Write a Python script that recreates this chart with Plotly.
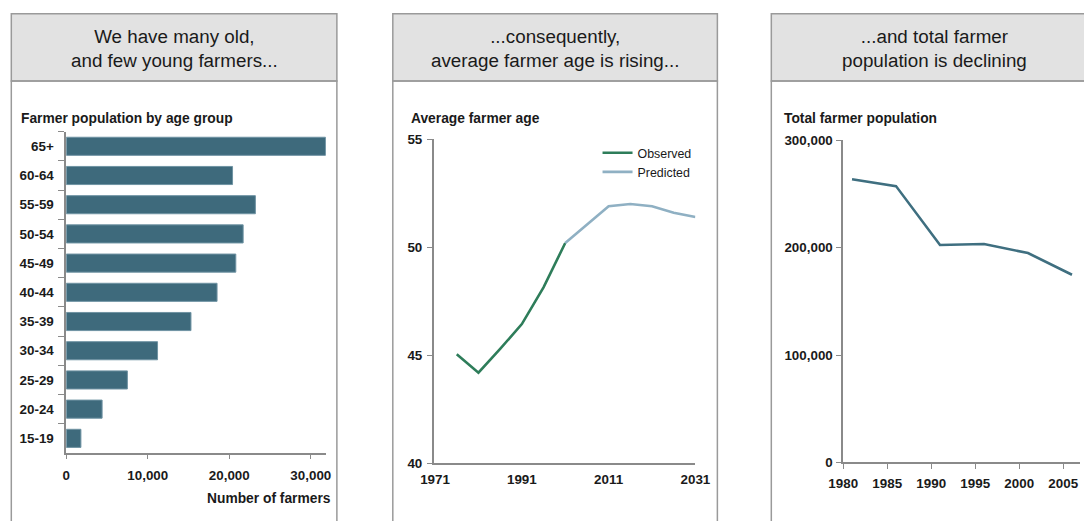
import plotly.graph_objects as go

# The photographed page shows the figure slightly scaled and offset; all
# positions below are given in target-picture pixels and converted.
A_X, B_X = 0.974, 13.7
A_Y, B_Y = 0.968, 7.3
W, H = 1100, 532

# ---------------- data ----------------
age_groups = ["65+", "60-64", "55-59", "50-54", "45-49", "40-44",
              "35-39", "30-34", "25-29", "20-24", "15-19"]
farmers_by_age = [31800, 20400, 23200, 21700, 20800, 18500,
                  15300, 11200, 7500, 4400, 1800]

obs_years = [1976, 1981, 1986, 1991, 1996, 2001]
obs_age = [45.05, 44.2, 45.3, 46.45, 48.15, 50.2]
pred_years = [2001, 2006, 2011, 2016, 2021, 2026, 2031]
pred_age = [50.2, 51.05, 51.9, 52.0, 51.9, 51.6, 51.4]

pop_years = [1981, 1986, 1991, 1996, 2001, 2006]
pop_total = [263600, 257300, 202500, 203400, 195000, 174800]

headers = ["We have many old,<br>and few young farmers...",
           "...consequently,<br>average farmer age is rising...",
           "...and total farmer<br>population is declining"]
subtitles = ["Farmer population by age group", "Average farmer age",
             "Total farmer population"]

# ---------------- helpers ----------------
def px(x, clamp=True):
    v = ((x - B_X) / A_X) / W
    return min(max(v, 0.0), 1.0) if clamp else v

def py(y, clamp=True):
    v = 1 - ((y - B_Y) / A_Y) / H
    return min(max(v, 0.0), 1.0) if clamp else v

FONT = "Liberation Sans, Arial, sans-serif"
TXT = "#1a1a1a"
AX = "#8a8a8a"
BAR = "#3e6a7c"

fig = go.Figure()

fig.add_trace(go.Bar(
    y=age_groups, x=farmers_by_age, orientation="h",
    marker=dict(color=BAR, line=dict(color="#6f93a3", width=1)),
    xaxis="x", yaxis="y", showlegend=False,
))
fig.add_trace(go.Scatter(
    x=obs_years, y=obs_age, mode="lines", name="Observed",
    line=dict(color="#2e7d5a", width=2.6),
    xaxis="x2", yaxis="y2",
))
fig.add_trace(go.Scatter(
    x=pred_years, y=pred_age, mode="lines", name="Predicted",
    line=dict(color="#8fb0c3", width=2.6),
    xaxis="x2", yaxis="y2",
))
fig.add_trace(go.Scatter(
    x=pop_years, y=pop_total, mode="lines", showlegend=False,
    line=dict(color="#3f6f80", width=2.6),
    xaxis="x3", yaxis="y3",
))

tickfont = dict(family=FONT, size=13.4, color=TXT, weight="bold")

common = dict(showgrid=False, zeroline=False, showline=True, linecolor=AX,
              linewidth=1.5, tickcolor=AX, tickfont=tickfont, fixedrange=True)

fig.update_layout(
    width=W, height=H,
    margin=dict(l=0, r=0, t=0, b=0),
    paper_bgcolor="white", plot_bgcolor="rgba(0,0,0,0)",
    font=dict(family=FONT, color=TXT),
    bargap=0.38,
    xaxis=dict(domain=[px(65), px(325)], range=[0, 31850],
               tickvals=[0, 10000, 20000, 30000], tickformat=",",
               ticks="outside", ticklen=4, ticklabelstandoff=5,
               anchor="y", **common),
    yaxis=dict(domain=[py(451.5), py(131.5)], autorange="reversed",
               type="category", ticks="outside", ticklen=6,
               tickson="boundaries", ticklabelstandoff=8,
               anchor="x", **common),
    xaxis2=dict(domain=[px(433), px(695)], range=[1970.7, 2031],
                tickvals=[1971, 1991, 2011, 2031], ticks="",
                ticklabelstandoff=3, anchor="y2", **common),
    yaxis2=dict(domain=[py(462), py(139)], range=[40, 55],
                tickvals=[40, 45, 50, 55], ticks="outside", ticklen=5,
                ticklabelstandoff=2, anchor="x2", **common),
    xaxis3=dict(domain=[px(843), px(1080)], range=[1980, 2006.9],
                tickvals=[1980, 1985, 1990, 1995, 2000, 2005],
                ticks="outside", ticklen=5, ticklabelstandoff=3,
                anchor="y3", **common),
    yaxis3=dict(domain=[py(461), py(140)], range=[0, 300000],
                tickvals=[0, 100000, 200000, 300000], tickformat=",",
                ticks="outside", ticklen=5, ticklabelstandoff=1,
                anchor="x3", **common),
    legend=dict(x=px(597), y=py(138), xanchor="left", yanchor="top",
                bgcolor="rgba(0,0,0,0)",
                font=dict(family=FONT, size=12.4, color=TXT),
                itemwidth=30, tracegroupgap=0),
)

# panel boxes and headers
panels = [(10, 336), (392, 717), (771, 1110)]
for (x0, x1) in panels:
    fig.add_shape(type="rect", xref="paper", yref="paper",
                  x0=px(x0, False), x1=px(x1, False), y0=py(81, False), y1=py(14, False),
                  fillcolor="#e2e2e2", line=dict(color="#9a9a9a", width=1.5),
                  layer="below")
    fig.add_shape(type="rect", xref="paper", yref="paper",
                  x0=px(x0, False), x1=px(x1, False), y0=py(560, False), y1=py(81, False),
                  fillcolor="rgba(0,0,0,0)", line=dict(color="#9a9a9a", width=1.5),
                  layer="below")

header_centers = [173, 554.5, 934]
for cx, head in zip(header_centers, headers):
    fig.add_annotation(text=head, xref="paper", yref="paper",
                       x=px(cx), y=py(48.5), xanchor="center", yanchor="middle",
                       showarrow=False, align="center",
                       font=dict(family=FONT, size=18.8, color=TXT))

sub_x = [18, 408, 782]
for sx, sub in zip(sub_x, subtitles):
    fig.add_annotation(text=sub, xref="paper", yref="paper",
                       x=px(sx), y=py(118), xanchor="left", yanchor="middle",
                       showarrow=False,
                       font=dict(family=FONT, size=13.8, color=TXT, weight="bold"))

fig.add_annotation(text="Number of farmers", xref="paper", yref="paper",
                   x=px(332), y=py(497), xanchor="right", yanchor="middle",
                   showarrow=False,
                   font=dict(family=FONT, size=13.8, color=TXT, weight="bold"))

fig.write_html("out.html")
